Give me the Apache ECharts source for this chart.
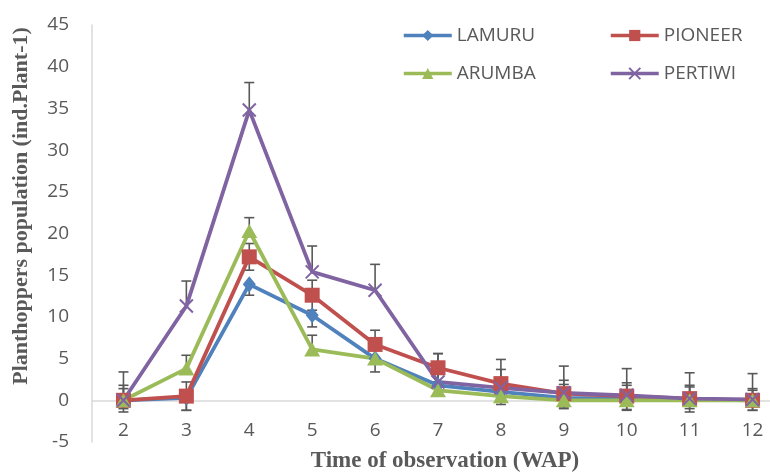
<!DOCTYPE html>
<html>
<head>
<meta charset="utf-8">
<script src="https://cdn.jsdelivr.net/npm/echarts@6/dist/echarts.min.js"></script>
<style>
  body { margin: 0; background: #fff; overflow: hidden; }
  #chart_container { width: 800px; height: 472px; }
</style>
</head>
<body>
<div id="chart_container"></div>
<script>
// weeks after planting
const weeks = ["2", "3", "4", "5", "6", "7", "8", "9", "10", "11", "12"]

// mean population per variety
const lamuru  = [0, 0.3, 13.9, 10.2, 5.0, 1.8, 1.0, 0.3, 0.2, 0.1, 0]
const pioneer = [0, 0.5, 17.2, 12.6, 6.7, 3.9, 2.0, 0.8, 0.5, 0.2, 0]
const arumba  = [0, 3.8, 20.3, 6.1, 5.0, 1.2, 0.5, 0, 0, 0, 0]
const pertiwi = [0, 11.3, 34.8, 15.4, 13.2, 2.2, 1.5, 0.9, 0.6, 0.2, 0.1]

// error bar sizes
const lamuruErr  = [1.0, 1.5, 1.3, 1.4, 1.6, 1.2, 1.5, 1.3, 1.4, 1.1, 1.2]
const pioneerErr = [1.4, 1.7, 1.6, 1.8, 1.7, 1.7, 1.7, 1.6, 1.6, 1.6, 1.2]
const arumbaErr  = [1.8, 1.6, 1.6, 1.7, 1.0, 1.0, 1.5, 1.9, 1.8, 1.6, 1.4]
const pertiwiErr = [3.4, 3.0, 3.3, 3.1, 3.1, 3.4, 3.4, 3.2, 3.2, 3.1, 3.1]

const textColor = "#595959"
const labelFont = "Open Sans"
const titleFont = "Liberation Serif"

const xPath = "path://M0,0 L10,10 M10,0 L0,10"

// dir: "plus", "minus" or "both"
function errData(values, errs, dir){
    return values.map((v, i) => {
        let lo = dir === "plus" ? v : v - errs[i]
        let hi = dir === "minus" ? v : v + errs[i]
        return [i, lo, hi, dir === "plus" ? 0 : 1, dir === "minus" ? 0 : 1]
    })
}

function renderErr(params, api){
    let x = api.value(0)
    let lo = api.coord([x, api.value(1)])
    let hi = api.coord([x, api.value(2)])
    let half = 5
    let style = { stroke: textColor, lineWidth: 1.6 }
    let children = [
        { type: "line", shape: { x1: lo[0], y1: lo[1], x2: hi[0], y2: hi[1] }, style: style }
    ]
    if (api.value(3)) {
        children.push({ type: "line", shape: { x1: lo[0] - half, y1: lo[1], x2: lo[0] + half, y2: lo[1] }, style: style })
    }
    if (api.value(4)) {
        children.push({ type: "line", shape: { x1: hi[0] - half, y1: hi[1], x2: hi[0] + half, y2: hi[1] }, style: style })
    }
    return { type: "group", children: children }
}

function errSeries(values, errs, dir){
    return {
        type: "custom",
        renderItem: renderErr,
        data: errData(values, errs, dir),
        z: 1,
        silent: true
    }
}

function lineSeries(name, values, color, symbol, size){
    let s = {
        name: name,
        type: "line",
        data: values,
        symbol: symbol,
        symbolSize: size,
        showSymbol: true,
        lineStyle: { color: color, width: 3.8 },
        itemStyle: { color: color },
        z: 3
    }
    if (symbol === xPath) {
        s.itemStyle = { color: "none", borderColor: color, borderWidth: 2 }
    }
    return s
}

let chart = echarts.init(document.getElementById("chart_container"))

let legendText = { color: textColor, fontSize: 19, fontFamily: labelFont }

let option = {
    animation: false,
    grid: { left: 92, width: 692, top: 25, height: 417, containLabel: false },
    legend: [
        {
            left: 397, top: 21, orient: "vertical", itemWidth: 48, itemHeight: 14, itemGap: 19,
            lineStyle: { width: 3.5 },
            data: ["LAMURU", "ARUMBA"], textStyle: legendText
        },
        {
            left: 604, top: 21, orient: "vertical", itemWidth: 48, itemHeight: 14, itemGap: 19,
            lineStyle: { width: 3.5 },
            data: ["PIONEER", "PERTIWI"], textStyle: legendText
        }
    ],
    xAxis: {
        type: "category",
        data: weeks,
        boundaryGap: true,
        axisLine: { show: false },
        axisTick: { show: false },
        axisLabel: { color: textColor, fontSize: 19, fontFamily: labelFont, margin: -21 }
    },
    yAxis: {
        type: "value",
        min: -5,
        max: 45,
        interval: 5,
        axisLine: { show: true, lineStyle: { color: "#d9d9d9", width: 1.5 } },
        axisTick: { show: false },
        splitLine: { show: false },
        axisLabel: { color: textColor, fontSize: 19, fontFamily: labelFont, margin: 23 }
    },
    graphic: [
        {
            type: "text", x: 445, y: 461,
            style: { text: "Time of observation (WAP)", fill: textColor, font: "bold 23px " + titleFont,
                     align: "center", verticalAlign: "middle" }
        },
        {
            type: "text", x: 21, y: 206, rotation: Math.PI / 2,
            style: { text: "Planthoppers population (ind.Plant-1)", fill: textColor,
                     font: "bold 22px " + titleFont, align: "center", verticalAlign: "middle" }
        }
    ],
    series: [
        errSeries(lamuru, lamuruErr, "minus"),
        errSeries(pioneer, pioneerErr, "both"),
        errSeries(arumba, arumbaErr, "plus"),
        errSeries(pertiwi, pertiwiErr, "plus"),
        Object.assign(lineSeries("LAMURU", lamuru, "#4F81BD", "diamond", [13, 16]), {
            markLine: {
                silent: true, symbol: "none", label: { show: false },
                lineStyle: { color: "#d9d9d9", width: 1.5, type: "solid" },
                data: [{ yAxis: 0 }], z: 0
            }
        }),
        lineSeries("PIONEER", pioneer, "#C0504D", "rect", 15),
        lineSeries("ARUMBA", arumba, "#9BBB59", "triangle", [16, 14]),
        lineSeries("PERTIWI", pertiwi, "#8064A2", xPath, 13)
    ]
}

chart.setOption(option)
</script>
</body>
</html>
